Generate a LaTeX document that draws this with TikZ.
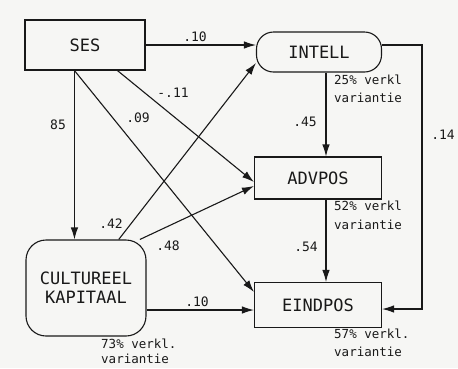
\documentclass[tikz,border=0pt]{standalone}
\usepackage{fontspec}
\setmainfont{DejaVu Sans Mono}
\usetikzlibrary{arrows.meta,calc}
\definecolor{paper}{RGB}{246,246,244}
\definecolor{ink}{RGB}{25,25,25}
\begin{document}
\begin{tikzpicture}[x=1pt,y=-1pt,
  box/.style={draw=ink, line width=1.1pt, fill=paper, inner sep=0pt, font=\fontsize{17}{19}\selectfont, text=ink},
  arr/.style={draw=ink, line width=1.1pt, -{Latex[length=12pt,width=7.5pt]}},
  lbl/.style={inner sep=0pt, font=\fontsize{13}{14}\selectfont, text=ink},
  note/.style={inner sep=0pt, anchor=west, font=\fontsize{12.5}{14}\selectfont, text=ink}]
\fill[paper] (0,0) rectangle (458,368);
\useasboundingbox (0,0) rectangle (458,368);
% nodes
\node[box, minimum width=120pt, minimum height=50pt] (ses) at (85,45) {SES};
\node[box, rounded corners=17pt, minimum width=125pt, minimum height=40pt] (intell) at (319,52) {INTELL};
\node[box, minimum width=127pt, minimum height=42pt] (adv) at (318,178) {ADVPOS};
\node[box, minimum width=127pt, minimum height=45pt] (eind) at (318,305) {EINDPOS};
\node[box, rounded corners=20pt, minimum width=120pt, minimum height=96pt, align=center] (cult) at (86,288) {CULTUREEL\\KAPITAAL};
% helper coordinates
\coordinate (s1) at ([xshift=50pt]ses.south west);
\coordinate (s2) at ([xshift=93pt]ses.south west);
\coordinate (i1) at ([xshift=7pt]intell.south);
\coordinate (a1) at ([xshift=8pt]adv.south);
\coordinate (r1) at ([yshift=7pt]intell.east);
\coordinate (r2) at ([yshift=-4pt]eind.east);
\coordinate (e1) at ([yshift=-5pt]eind.west);
\coordinate (loopx) at (422,0);
% connectors
\draw[arr] (ses.east) -- (ses.east -| intell.west);
\draw[arr] (s1) -- (s1 |- cult.north);
\draw[arr] (s1) -- ([yshift=13pt]eind.west);
\draw[arr] (s2) -- ([yshift=-4pt]adv.west);
\draw[arr] (cult.56) -- ([yshift=-11pt]intell.west);
\draw[arr] (cult.42) -- ([yshift=-8pt]adv.west);
\draw[arr] (cult.east |- e1) -- (e1);
\draw[arr] (i1) -- (i1 |- adv.north);
\draw[arr] (a1) -- (a1 |- eind.north);
\draw[arr] (r1) -- (loopx |- r1) -- (loopx |- r2) -- (r2);
% coefficients
\node[lbl] (c1) at (195,37) {.10};
\node[lbl] (c2) at (173,93) {-.11};
\node[lbl] (c3) at (138,118) {.09};
\node[lbl] (c4) at (58,125) {85};
\node[lbl] (c5) at (111,224) {.42};
\node[lbl] (c6) at (168,246) {.48};
\node[lbl] (c7) at (197,302) {.10};
\node[lbl] (c8) at (305,122) {.45};
\node[lbl] (c9) at (306,247) {.54};
\node[lbl] (c10) at (443,135) {.14};
% explained variance notes
\node[note] (n1a) at (334,80) {25\% verkl};
\node[note] (n1b) at (334,98) {variantie};
\node[note] (n2a) at (334,206) {52\% verkl};
\node[note] (n2b) at (334,225) {variantie};
\node[note] (n3a) at (334,334) {57\% verkl.};
\node[note] (n3b) at (334,352) {variantie};
\node[note] (n4a) at (101,344) {73\% verkl.};
\node[note] (n4b) at (101,359) {variantie};
\end{tikzpicture}
\end{document}
